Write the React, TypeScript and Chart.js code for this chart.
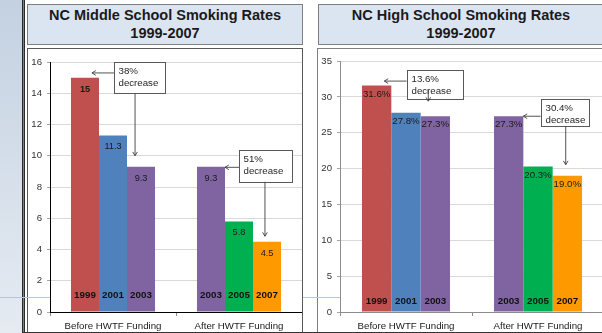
import React, { useEffect, useRef } from "react";
import { Chart, registerables } from "chart.js";

Chart.register(...registerables);

const FONT = "'Liberation Sans', Arial, Helvetica, sans-serif";

// ---------- data ----------
const categories = ["Before HWTF Funding", "After HWTF Funding"];

// bars in drawing order: 3 per category
const msYears = ["1999", "2001", "2003", "2003", "2005", "2007"];
const msValues = [15, 11.3, 9.3, 9.3, 5.8, 4.5];
const msLabels = msValues.map((v) => String(v));
const msBold = [true, false, false, false, false, false];
const msTicks = { max: 16, step: 2 };

const hsYears = ["1999", "2001", "2003", "2003", "2005", "2007"];
const hsValues = [31.6, 27.8, 27.3, 27.3, 20.3, 19.0];
const hsLabels = hsValues.map((v) => v.toFixed(1) + "%");
const hsBold = [false, false, false, false, false, false];
const hsTicks = { max: 35, step: 5 };

const yearColors: Record<string, string> = {
  "1999": "#c0504d",
  "2001": "#4f81bd",
  "2003": "#8064a2",
  "2005": "#00b050",
  "2007": "#ff9900",
};

// callouts, in (category units, data values)
type Box = { x0: number; x1: number; yTop: number; yBot: number; lines: string[] };
type Arrow = { x0: number; y0: number; x1: number; y1: number };

const msBoxes: Box[] = [
  { x0: 0.008, x1: 0.413, yTop: 16.0, yBot: 14.0, lines: ["38%", "decrease"] },
  { x0: 1.0, x1: 1.421, yTop: 10.37, yBot: 8.33, lines: ["51%", "decrease"] },
];
const msArrows: Arrow[] = [
  { x0: 0.008, y0: 15.3, x1: -0.167, y1: 15.3 },
  { x0: 0.175, y0: 14.0, x1: 0.175, y1: 10.0 },
  { x0: 1.0, y0: 9.26, x1: 0.889, y1: 9.26 },
  { x0: 1.206, y0: 8.33, x1: 1.206, y1: 4.85 },
];

const hsBoxes: Box[] = [
  { x0: 0.005, x1: 0.429, yTop: 33.7, yBot: 29.64, lines: ["13.6%", "decrease"] },
  { x0: 1.02, x1: 1.389, yTop: 29.64, yBot: 25.9, lines: ["30.4%", "decrease"] },
];
const hsArrows: Arrow[] = [
  { x0: 0.005, y0: 32.2, x1: -0.164, y1: 32.2 },
  { x0: 0.169, y0: 31.0, x1: 0.169, y1: 29.4 },
  { x0: 1.02, y0: 27.3, x1: 0.889, y1: 27.3 },
  { x0: 1.21, y0: 25.9, x1: 1.21, y1: 20.54 },
];

type PanelProps = {
  w: number;
  years: string[];
  values: number[];
  labels: string[];
  bold: boolean[];
  ticks: { max: number; step: number };
  boxes: Box[];
  arrows: Arrow[];
  axisColor: string;
  valueOffset: number;
  valueSize: number;
  yearOffset: number;
  padTop: number;
};

function drawArrow(ctx: CanvasRenderingContext2D, x0: number, y0: number, x1: number, y1: number) {
  ctx.beginPath();
  ctx.moveTo(x0, y0);
  ctx.lineTo(x1, y1);
  ctx.stroke();
  const a = Math.atan2(y1 - y0, x1 - x0);
  const L = 4.5;
  const W = 0.55;
  ctx.beginPath();
  ctx.moveTo(x1 - L * Math.cos(a - W), y1 - L * Math.sin(a - W));
  ctx.lineTo(x1, y1);
  ctx.lineTo(x1 - L * Math.cos(a + W), y1 - L * Math.sin(a + W));
  ctx.stroke();
}

function Panel(p: PanelProps) {
  const ref = useRef<HTMLCanvasElement | null>(null);
  useEffect(() => {
    if (!ref.current) return;
    const datasets = [0, 1, 2].map((s) => ({
      label: "slot" + s,
      data: [p.values[s], p.values[3 + s]],
      backgroundColor: [yearColors[p.years[s]], yearColors[p.years[3 + s]]],
      borderWidth: 0,
      barPercentage: 1,
      categoryPercentage: 0.667,
    }));
    const decor = {
      id: "decor",
      afterDatasetsDraw(chart: any) {
        const ctx: CanvasRenderingContext2D = chart.ctx;
        ctx.save();
        ctx.textAlign = "center";
        ctx.textBaseline = "middle";
        for (let s = 0; s < 3; s++) {
          const meta = chart.getDatasetMeta(s);
          meta.data.forEach((bar: any, c: number) => {
            const i = c * 3 + s;
            const { x, y, base } = bar.getProps(["x", "y", "base"], true);
            ctx.font = `${p.bold[i] ? "bold " : ""}${p.valueSize}px ${FONT}`;
            ctx.fillStyle = "#1a1a1a";
            ctx.fillText(p.labels[i], x, y + p.valueOffset);
            ctx.font = `bold 9.8px ${FONT}`;
            ctx.fillStyle = "#111111";
            ctx.fillText(p.years[i], x, base - p.yearOffset);
          });
        }
        const xs = chart.scales.x;
        const ys = chart.scales.y;
        const c0 = xs.getPixelForValue(0);
        const c1 = xs.getPixelForValue(1);
        const px = (u: number) => c0 + u * (c1 - c0);
        const py = (v: number) => ys.getPixelForValue(v);
        ctx.textAlign = "left";
        for (const b of p.boxes) {
          const X0 = Math.round(px(b.x0)) + 0.5;
          const X1 = Math.round(px(b.x1)) + 0.5;
          const Y0 = Math.round(py(b.yTop)) + 0.5;
          const Y1 = Math.round(py(b.yBot)) + 0.5;
          ctx.fillStyle = "#ffffff";
          ctx.fillRect(X0, Y0, X1 - X0, Y1 - Y0);
          ctx.strokeStyle = "#595959";
          ctx.lineWidth = 1;
          ctx.strokeRect(X0, Y0, X1 - X0, Y1 - Y0);
          ctx.fillStyle = "#262626";
          ctx.font = `9.7px ${FONT}`;
          b.lines.forEach((t, k) => ctx.fillText(t, X0 + 4, Y0 + 8.5 + k * 12));
        }
        ctx.strokeStyle = "#404040";
        ctx.lineWidth = 0.9;
        for (const a of p.arrows) {
          drawArrow(ctx, px(a.x0), py(a.y0), px(a.x1), py(a.y1));
        }
        ctx.restore();
      },
    };
    const chart = new Chart(ref.current, {
      type: "bar",
      data: { labels: categories, datasets },
      options: {
        animation: false,
        responsive: false,
        maintainAspectRatio: false,
        devicePixelRatio: 1,
        layout: { padding: { top: p.padTop, right: 0, left: 0, bottom: 0 } },
        plugins: { legend: { display: false }, tooltip: { enabled: false }, title: { display: false } },
        scales: {
          x: {
            grid: { display: true, drawOnChartArea: false, offset: true, tickLength: 4, color: "#8c8c8c" },
            border: { display: true, color: p.axisColor, width: 1 },
            ticks: { color: "#1a1a1a", padding: 5, font: { family: FONT, size: 9.7 }, maxRotation: 0 },
            afterFit: (s: any) => {
              s.height = 19;
            },
          },
          y: {
            min: 0,
            max: p.ticks.max,
            ticks: { stepSize: p.ticks.step, color: "#333333", padding: 5, font: { family: FONT, size: 9.6 } },
            grid: { color: "#d9d9d9", tickLength: 3, tickColor: "#a6a6a6" },
            border: { display: true, color: p.axisColor, width: 1 },
            afterFit: (s: any) => {
              s.width = 22;
            },
          },
        },
      },
      plugins: [decor],
    });
    return () => chart.destroy();
  }, []);
  return <canvas ref={ref} width={p.w} height={282} style={{ display: "block", width: p.w, height: 282 }} />;
}

const abs = (l: number, t: number, w: number, h: number, extra: React.CSSProperties = {}): React.CSSProperties => ({
  position: "absolute",
  left: l,
  top: t,
  width: w,
  height: h,
  boxSizing: "border-box",
  ...extra,
});

const titleStyle: React.CSSProperties = {
  display: "flex",
  flexDirection: "column",
  alignItems: "center",
  justifyContent: "center",
  fontFamily: FONT,
  fontWeight: "bold",
  fontSize: "14.5px",
  lineHeight: "17.5px",
  color: "#1a1a1a",
  background: "#dbe5f1",
  border: "1px solid #7f7f7f",
  textAlign: "center",
};

export default function App() {
  return (
    <div
      style={{
        position: "fixed",
        left: 0,
        top: 0,
        width: 602,
        height: 333,
        overflow: "hidden",
        background: "#ffffff",
      }}
    >
      <div style={abs(0, 0, 22, 333, { background: "linear-gradient(#c3d1e1, #e6ebf2)" })} />
      <div style={abs(22, 0, 3, 333, { background: "#808080", borderLeft: "1px solid #2b2b2b", borderRight: "1px solid #2b2b2b" })} />

      <div style={abs(27, 4, 276, 41, titleStyle)}>
        <div>NC Middle School Smoking Rates</div>
        <div>1999-2007</div>
      </div>
      <div style={abs(318, 4, 286, 41, titleStyle)}>
        <div>NC High School Smoking Rates</div>
        <div>1999-2007</div>
      </div>

      <div style={abs(27, 48, 276, 286, { border: "1px solid #595959", background: "#fff" })} />
      <div style={abs(317, 48, 300, 286, { border: "1px solid #7f7f7f", background: "#fff" })} />

      <div style={abs(28, 49, 274, 282)}>
        <Panel
          w={274}
          years={msYears}
          values={msValues}
          labels={msLabels}
          bold={msBold}
          ticks={msTicks}
          boxes={msBoxes}
          arrows={msArrows}
          axisColor="#000000"
          valueOffset={11.5}
          valueSize={9.2}
          yearOffset={16}
          padTop={13}
        />
      </div>
      <div style={abs(318, 49, 286, 282)}>
        <Panel
          w={286}
          years={hsYears}
          values={hsValues}
          labels={hsLabels}
          bold={hsBold}
          ticks={hsTicks}
          boxes={hsBoxes}
          arrows={hsArrows}
          axisColor="#8c8c8c"
          valueOffset={8.5}
          valueSize={9.7}
          yearOffset={10}
          padTop={12}
        />
      </div>

      <div style={abs(0, 297, 50, 1, { background: "#b7c7da" })} />
      <div style={abs(303, 297, 37, 1, { background: "#b7c7da" })} />
      <div style={abs(22, 332, 580, 1, { background: "#333333" })} />
    </div>
  );
}
